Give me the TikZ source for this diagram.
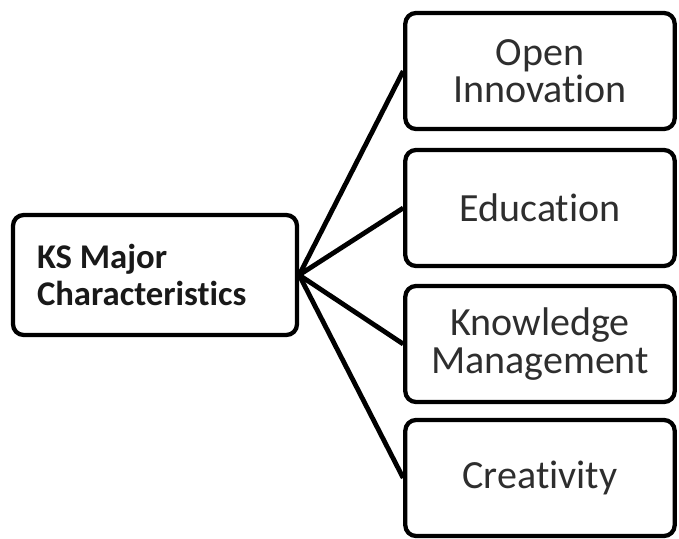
\documentclass[tikz,border=0pt]{standalone}
\usepackage{fontspec}
\setmainfont{Carlito}[Ligatures=NoCommon]

\begin{document}
\begin{tikzpicture}
[x=0.75pt,y=-0.75pt,
 hub/.style ={rectangle, draw=black, line width=3.2pt, rounded corners=8pt,
   text width=177pt, inner xsep=18pt, align=flush left, minimum height=90pt,
   font=\fontsize{26}{28}\selectfont\bfseries, text=black!90},
 item/.style ={rectangle, draw=black, line width=3.2pt, rounded corners=8pt,
   minimum width=202pt, minimum height=87pt, align=center,
   font=\fontsize{30}{28}\selectfont, text=black!82},
 line/.style ={draw, line width=3.6pt}]
\useasboundingbox (0,0) rectangle (679,539);
\draw (155,275) node[hub] (KS) {KS Major\\Characteristics};
\path (540,71)  node[item] (O){Open\\Innovation}
      (540,208) node[item] (E){Education}
      (540,344) node[item] (K){Knowledge\\Management}
      (540,478) node[item] (C){Creativity};
\draw[line] (KS.east) -- (O.west);
\draw[line] (KS.east) -- (E.west);
\draw[line] (KS.east) -- (K.west);
\draw[line] (KS.east) -- (C.west);
\end{tikzpicture}
\end{document}
